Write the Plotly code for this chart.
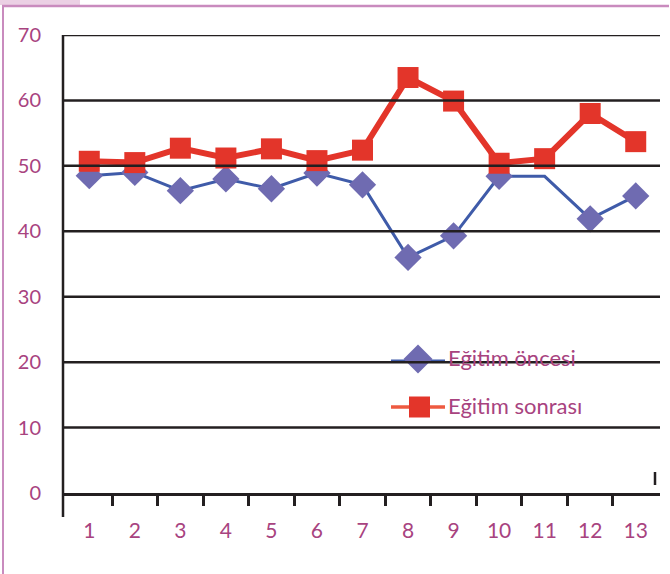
import plotly.graph_objects as go

# ---- data ----
categories = list(range(1, 13 + 1))
tick_labels = ["1", "2", "3", "4", "5", "6", "7", "8", "9", "10", "11", "12", "13"]
egitim_oncesi = [48.5, 49.0, 46.2, 48.0, 46.5, 48.9, 47.1, 36.0, 39.3, 48.4, 48.4, 41.9, 45.4]
oncesi_marker_shown = [1, 1, 1, 1, 1, 1, 1, 1, 1, 1, 0, 1, 1]
egitim_sonrasi = [50.7, 50.5, 52.7, 51.2, 52.6, 50.8, 52.4, 63.5, 59.9, 50.4, 51.1, 58.0, 53.7]
y_ticks = [0, 10, 20, 30, 40, 50, 60, 70]
series_names = ["Eğitim öncesi", "Eğitim sonrası"]

# ---- style ----
W, H = 670, 574
L, R, T, B = 63, 10, 35, 81
PW, PH = W - L - R, H - T - B
TXT = "#A8437F"
INK = "#231F20"
BLUE_LINE = "#3F5BA9"
BLUE_MARK = "#6F6BB1"
RED = "#E3352A"
FONT = "Lato"


def px(x):
    return (x - L) / PW


def py(y):
    return (H - B - y) / PH


fig = go.Figure()

fig.add_trace(go.Scatter(
    x=categories, y=egitim_oncesi, mode="lines+markers", name=series_names[0],
    line=dict(color=BLUE_LINE, width=3),
    marker=dict(symbol="diamond", size=21, color=BLUE_MARK, opacity=oncesi_marker_shown,
                line=dict(width=0)),
    showlegend=False, cliponaxis=False))
fig.add_trace(go.Scatter(
    x=categories, y=egitim_sonrasi, mode="lines+markers", name=series_names[1],
    line=dict(color=RED, width=6),
    marker=dict(symbol="square", size=21, color=RED, line=dict(width=0)),
    showlegend=False, cliponaxis=False))
# invisible helper trace so the tick-only overlay axis is drawn
fig.add_trace(go.Scatter(x=[categories[0]], y=[y_ticks[0]], xaxis="x2", mode="markers",
                         marker=dict(opacity=0), showlegend=False, hoverinfo="skip"))

xr = [0.423, 13.533]
shapes = []
# frame (pink border)
shapes.append(dict(type="rect", xref="paper", yref="paper", x0=px(0), x1=px(80), y0=py(0), y1=py(5),
                   fillcolor="#EBD0E4", line=dict(width=0), layer="below"))
shapes.append(dict(type="line", xref="paper", yref="paper", x0=px(3), x1=px(3), y0=py(5), y1=py(H + 5),
                   line=dict(color="#C98BBE", width=2), layer="above"))
shapes.append(dict(type="line", xref="paper", yref="paper", x0=px(2), x1=px(W - 1), y0=py(6), y1=py(6),
                   line=dict(color="#C98BBE", width=2.5), layer="above"))
# y axis line extending below zero
shapes.append(dict(type="line", xref="paper", yref="paper", x0=0, x1=0, y0=py(517), y1=1,
                   line=dict(color=INK, width=2.5), layer="above"))
# small stray mark at right
shapes.append(dict(type="line", xref="paper", yref="paper", x0=px(655), x1=px(655), y0=py(472), y1=py(485),
                   line=dict(color=INK, width=2.5), layer="above"))

# manual legend
ly = [361, 407]
shapes.append(dict(type="line", xref="paper", yref="paper", x0=px(391), x1=px(445), y0=py(ly[0]), y1=py(ly[0]),
                   line=dict(color=BLUE_LINE, width=3), layer="above"))
cx, cy, r = 418, 359, 14.5
shapes.append(dict(type="path", xref="paper", yref="paper",
                   path="M {},{} L {},{} L {},{} L {},{} Z".format(
                       px(cx - r), py(cy), px(cx), py(cy - r), px(cx + r), py(cy), px(cx), py(cy + r)),
                   fillcolor=BLUE_MARK, line=dict(width=0), layer="above"))
shapes.append(dict(type="line", xref="paper", yref="paper", x0=px(391), x1=px(445), y0=py(ly[1]), y1=py(ly[1]),
                   line=dict(color="#EE5A40", width=3.5), layer="above"))
shapes.append(dict(type="rect", xref="paper", yref="paper", x0=px(409), x1=px(430), y0=py(396.5), y1=py(417.5),
                   fillcolor=RED, line=dict(width=0), layer="above"))

# gridlines drawn above the data, as in the reference
for v in y_ticks[1:]:
    shapes.append(dict(type="line", xref="paper", yref="y", x0=0, x1=1, y0=v, y1=v,
                       line=dict(color=INK, width=2.5), layer="above"))

annotations = [
    dict(xref="paper", yref="paper", x=px(446), y=py(357), text=series_names[0], showarrow=False,
         xanchor="left", yanchor="middle", font=dict(family=FONT, size=22, color=TXT)),
    dict(xref="paper", yref="paper", x=px(446), y=py(405), text=series_names[1], showarrow=False,
         xanchor="left", yanchor="middle", font=dict(family=FONT, size=22, color=TXT)),
]

fig.update_layout(
    width=W, height=H,
    margin=dict(l=L, r=R, t=T, b=B, pad=0),
    paper_bgcolor="white", plot_bgcolor="white",
    font=dict(family=FONT, color=TXT),
    xaxis=dict(range=xr, tickvals=categories, ticktext=tick_labels, showgrid=False, zeroline=False,
               showline=True, linecolor=INK, linewidth=2.5, ticks="outside", ticklen=17,
               tickcolor="rgba(0,0,0,0)", tickfont=dict(family=FONT, size=21, color=TXT)),
    xaxis2=dict(range=xr, overlaying="x", side="bottom", showgrid=False, zeroline=False,
                showline=False, tickvals=[c + 0.5 for c in categories[:-1]], ticks="outside",
                ticklen=12, tickwidth=2.5, tickcolor=INK, showticklabels=False),
    yaxis=dict(range=[y_ticks[0], y_ticks[-1]], tickvals=y_ticks, showgrid=False, zeroline=False,
               showline=False, ticks="outside", ticklen=17, tickcolor="rgba(0,0,0,0)",
               tickfont=dict(family=FONT, size=20, color=TXT)),
    shapes=shapes, annotations=annotations,
)

fig.write_html("out.html", config={"displayModeBar": False},
               post_script="document.body.style.margin='0';")
